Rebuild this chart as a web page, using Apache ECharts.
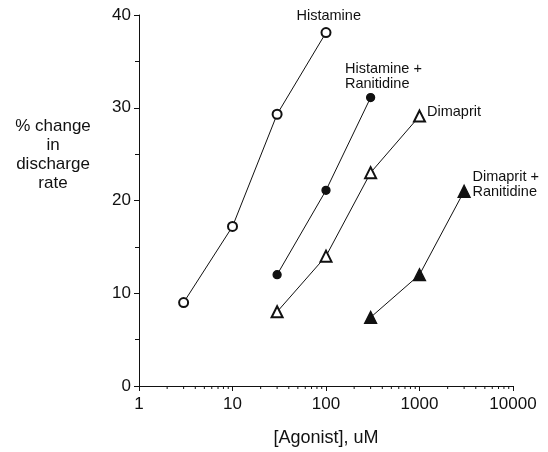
<!DOCTYPE html>
<html>
<head>
<meta charset="utf-8">
<script src="https://cdn.jsdelivr.net/npm/echarts@6/dist/echarts.min.js"></script>
<style>
  html, body { margin: 0; padding: 0; background: #fff; }
  #chart { width: 548px; height: 452px; }
</style>
</head>
<body>
<div id="chart"></div>
<script>
// concentrations (uM) and % change for each agonist curve
const histX = [3, 10, 30, 100]
const histY = [9, 17.2, 29.3, 38.1]
const histRanX = [30, 100, 300]
const histRanY = [12, 21.1, 31.1]
const dimX = [30, 100, 300, 1000]
const dimY = [8, 14, 23, 29.1]
const dimRanX = [300, 1000, 3000]
const dimRanY = [7.4, 12, 21]

const xTickLabels = ['1', '10', '100', '1000', '10000']
const minorX = [2, 3, 4, 5, 6, 7, 8, 9, 20, 30, 40, 50, 60, 70, 80, 90,
  200, 300, 400, 500, 600, 700, 800, 900, 2000, 3000, 4000, 5000, 6000, 7000, 8000, 9000]

const ink = '#111'
const font = '"Liberation Sans", Arial, sans-serif'

const pairs = (xs, ys) => xs.map((x, i) => [x, ys[i]])

// put a text label on the last point of a curve
function withEndLabel(data, text, pos) {
  const last = data.length - 1
  return data.map((d, i) => i !== last ? d : {
    value: d,
    label: {
      show: true, formatter: text, position: pos,
      color: ink, fontFamily: font, fontSize: 14.5, lineHeight: 15,
    },
  })
}

function curve(name, data, symbol, size) {
  return {
    name, type: 'line', data, symbol, symbolSize: size,
    showSymbol: true, animation: false,
    lineStyle: { color: ink, width: 1 },
    itemStyle: { color: ink, borderColor: ink, borderWidth: 1.3 },
    z: 3,
  }
}

const chart = echarts.init(document.getElementById('chart'), null, { renderer: 'canvas' })

chart.setOption({
  backgroundColor: '#fff',
  animation: false,
  grid: { left: 139, right: 35, top: 15, bottom: 64 },
  xAxis: {
    type: 'log', logBase: 10, min: 1, max: 10000,
    name: '[Agonist], uM', nameLocation: 'middle', nameGap: 43,
    nameTextStyle: { color: ink, fontFamily: font, fontSize: 18 },
    axisLine: { lineStyle: { color: ink, width: 1 } },
    axisTick: { show: true, length: 5, lineStyle: { color: ink } },
    axisLabel: {
      color: ink, fontFamily: font, fontSize: 17, margin: 10,
      formatter: v => xTickLabels[Math.round(Math.log10(v))],
    },
    splitLine: { show: false },
  },
  yAxis: {
    type: 'value', min: 0, max: 40, interval: 10,
    axisLine: { show: true, lineStyle: { color: ink, width: 1 } },
    axisTick: { show: true, length: 5, lineStyle: { color: ink } },
    minorTick: { show: true, splitNumber: 2, length: 4, lineStyle: { color: ink } },
    axisLabel: { color: ink, fontFamily: font, fontSize: 17, margin: 8 },
    splitLine: { show: false },
  },
  graphic: [{
    type: 'text', x: 53, y: 117,
    style: {
      text: '% change\nin\ndischarge\nrate', fill: ink, font: '17px ' + font,
      align: 'center', verticalAlign: 'top', lineHeight: 19,
    },
  }],
  series: [
    curve('Histamine', withEndLabel(pairs(histX, histY), 'Histamine', [-24, -19]), 'emptyCircle', 9),
    curve('Histamine + Ranitidine', withEndLabel(pairs(histRanX, histRanY), 'Histamine +\nRanitidine', [-21, -31]), 'circle', 8),
    curve('Dimaprit', withEndLabel(pairs(dimX, dimY), 'Dimaprit', [14, -5]), 'emptyTriangle', 11),
    curve('Dimaprit + Ranitidine', withEndLabel(pairs(dimRanX, dimRanY), 'Dimaprit +\nRanitidine', [15, -15]), 'triangle', 12),
    {
      // log-spaced minor ticks under the x axis
      type: 'custom', silent: true, animation: false, clip: false,
      data: minorX.map(v => [v, 0]),
      renderItem: (params, api) => {
        const p = api.coord([api.value(0), 0])
        return {
          type: 'line',
          shape: { x1: p[0], y1: p[1], x2: p[0], y2: p[1] + 3 },
          style: { stroke: ink, lineWidth: 1 },
        }
      },
    },
  ],
})
</script>
</body>
</html>
